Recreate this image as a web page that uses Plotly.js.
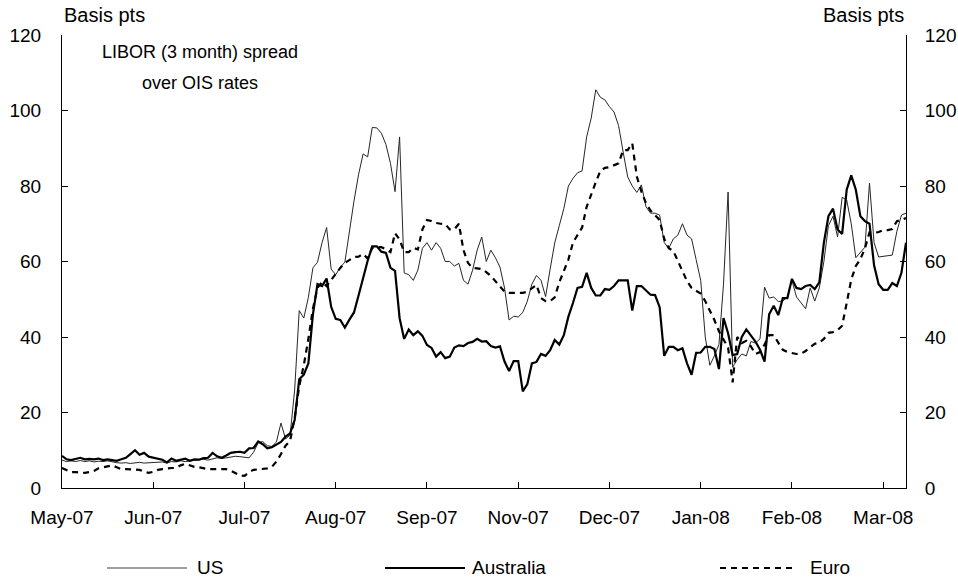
<!DOCTYPE html>
<html>
<head>
<meta charset="utf-8">
<script src="https://cdn.plot.ly/plotly-3.0.1.min.js"></script>
<style>html,body{margin:0;padding:0;background:#fff;}#chart{width:958px;height:577px;}</style>
</head>
<body>
<div id="chart"></div>
<script>
// Tick labels (one every 20 observations)
const tickLabels = ['May-07','Jun-07','Jul-07','Aug-07','Sep-07','Nov-07','Dec-07','Jan-08','Feb-08','Mar-08'];
const tickStep = 20;

// LIBOR (3 month) spread over OIS, basis points
const usSpread = [
 7.4,7.0,7.2,7.0,7.3,7.0,7.2,6.9,7.1,7.0,
 7.2,6.9,6.7,6.6,6.7,6.5,6.6,6.8,6.6,6.7,
 6.8,6.8,6.9,6.6,7.0,6.9,7.2,7.0,7.1,7.4,
 7.3,7.6,7.4,7.7,8.0,7.8,8.0,8.2,8.4,8.3,
 8.2,8.0,9.5,12.0,12.3,11.2,11.0,12.2,17.2,13.0,
 14.0,26,47,45,50.5,58.3,59.8,65,69,58,
 56.5,58.5,59.8,68,76,83,88.5,87.7,95.5,95.4,
 94,91,86,78.5,93,57,56.5,55,57.7,63.5,
 65,63,65,63.5,60,60,58.8,59.5,55,54,
 57.7,63,66.5,60,63,61,58.5,53,44.5,45.5,
 45.3,46.5,49.5,54,56.3,55,50.7,58,64.9,69.5,
 74,80,82,83.5,84,93,98,105.5,103.5,102.8,
 101,99.6,96,89,82.4,80,78.3,80.3,74.5,72.8,
 72.8,72.3,65,63.5,66,67,70,67,66,60.5,
 55,40,32.5,35,38,54,78.4,32,34,35.5,
 35,38.8,38.4,39.5,53.2,50.3,50.6,49.4,49.5,50.6,
 55,50.6,49.2,47.5,53,49.5,53,60,69.5,72,
 66.5,77,76.3,70,61,62.5,63.8,80.8,65,61.2,
 61.4,61.5,61.7,68,72.3,72.8
];
const ausSpread = [
 8.5,7.6,7.4,7.8,8.0,7.6,7.7,7.6,7.8,7.4,
 7.6,7.4,7.2,7.6,8.0,9.0,10.0,8.8,9.3,8.3,
 8.0,7.9,7.5,6.8,7.8,7.2,7.6,7.8,7.2,7.6,
 7.5,7.9,8.0,9.3,8.4,8.0,8.6,9.3,9.5,9.6,
 9.3,10.5,10.6,12.3,11.6,10.5,10.8,11.4,12.2,13.6,
 14.5,18,28.8,30,33,46,54,53.5,55.5,48,
 44.8,44.5,42.5,44.6,46.5,51,56,60.2,64,64,
 62.6,62.3,58.3,57.5,45,39.5,42,40.5,41.5,40.3,
 37.9,37.1,34.8,36,34.4,34.8,37.2,37.8,37.6,38.4,
 38.7,39.5,38.8,38.9,37.6,37.2,37.5,33.5,31,33.6,
 33.6,25.6,27.5,33,33.4,35.5,35,36.5,39.2,38,
 40.5,45.4,49,53,53.3,57,53,51,51,52.7,
 52.5,53.5,55,55,55,47,53.5,53.5,52.3,51.2,
 51.1,47.9,35,37.4,37.4,36.5,37,33,30,35.8,
 35.9,37.4,37.4,36.8,31.5,45,41,35.2,35.5,40,
 42,40.4,38.8,36.6,33.5,46,48.3,45.8,50.3,50.3,
 55.4,53,52.7,53.5,53.8,52.7,54.5,65,72,74,
 68.5,67.3,79,82.8,79,72,70.7,70,59,54,
 52.5,52.5,54.3,53.5,57,65
];
const euroSpread = [
 5.3,4.8,4.2,4.2,4.1,4.0,4.2,4.5,5.2,5.5,
 5.8,6.0,5.5,5.0,5.0,5.0,5.0,4.8,4.3,4.0,
 4.3,4.8,5.0,5.2,5.3,5.3,6.0,6.4,6.0,5.6,
 5.5,5.2,5.0,5.0,5.0,5.0,5.0,4.6,4.0,3.3,
 3.2,4.2,4.8,5.0,5.0,5.2,5.6,7.0,9.0,11.2,
 12.5,18.5,27,32.5,39.5,47.5,53,54.6,53.5,55.2,
 56.8,58.3,59.6,60.3,61.2,61.3,62,60.8,63.6,63.8,
 63.8,63.2,62.5,67.5,65.8,62.5,62.5,63.6,63.2,68.5,
 71,70.7,70.2,70,69.9,68.5,68.5,70,63,59.6,
 58.3,58.2,58,57.2,56.2,54.8,53.4,52,51.7,51.7,
 51.7,51.7,52,53,53.8,50.3,49.5,49.5,50.5,54.5,
 57.7,60.5,65,67,69,74.5,78,81,84,84.8,
 85,85.5,86,89.5,89.5,91.3,82.5,78.5,75.5,73.5,
 72.3,71,66,63.5,62.8,60,57.2,54.8,53,52.3,
 51.5,49.5,47,44.5,41.5,39.3,37.2,28,40,38.4,
 39,37.5,35.5,36,38,40.5,40.5,38.5,36.6,36,
 35.7,35.5,35.6,36.3,37.3,38.2,38.5,39.5,41.1,41.3,
 41.8,43,49,55.2,58.8,60.6,63.5,67.7,67.6,67.8,
 68.3,68.3,68.6,70.7,71,71.5
];
const seriesNames = ['US','Australia','Euro'];

const FONT = 'Arial, "Liberation Sans", sans-serif';
const tickVals = tickLabels.map((_, k) => k * tickStep);

const traces = [
  {y: usSpread, name: seriesNames[0], type: 'scatter', mode: 'lines',
   line: {color: '#262626', width: 1}, showlegend: false, hoverinfo: 'skip'},
  {y: ausSpread, name: seriesNames[1], type: 'scatter', mode: 'lines',
   line: {color: '#000000', width: 2.2}, showlegend: false, hoverinfo: 'skip'},
  {y: euroSpread, name: seriesNames[2], type: 'scatter', mode: 'lines',
   line: {color: '#000000', width: 2.2, dash: '6px,5px'}, showlegend: false, hoverinfo: 'skip'},
  {x: [], y: [], yaxis: 'y2', type: 'scatter', mode: 'lines', showlegend: false, hoverinfo: 'skip'}
];

const axisFont = {family: FONT, size: 19, color: '#000'};
const legY = -0.1766;
const layout = {
  width: 958, height: 577,
  margin: {l: 62, r: 52, t: 35, b: 89, pad: 0},
  paper_bgcolor: '#fff', plot_bgcolor: '#fff',
  showlegend: false,
  font: {family: FONT, size: 19, color: '#000'},
  xaxis: {
    range: [0, 185], tickmode: 'array', tickvals: tickVals, ticktext: tickLabels,
    ticks: 'inside', ticklen: 6, tickcolor: '#000', tickwidth: 1,
    showline: true, linecolor: '#000', linewidth: 1, showgrid: false, zeroline: false,
    tickfont: axisFont, ticklabelstandoff: 12
  },
  yaxis: {
    range: [0, 120], dtick: 20, tick0: 0,
    ticks: 'inside', ticklen: 6, tickcolor: '#000', tickwidth: 1,
    showline: true, linecolor: '#000', linewidth: 1, showgrid: false, zeroline: false,
    tickfont: axisFont, ticklabelstandoff: 16
  },
  yaxis2: {
    overlaying: 'y', side: 'right', anchor: 'x',
    range: [0, 120], dtick: 20, tick0: 0,
    ticks: 'inside', ticklen: 6, tickcolor: '#000', tickwidth: 1,
    showline: true, linecolor: '#000', linewidth: 1, showgrid: false, zeroline: false,
    tickfont: axisFont, ticklabelstandoff: 14
  },
  annotations: [
    {text: 'Basis pts', xref: 'paper', yref: 'paper', x: 0, y: 1.044, xanchor: 'left', yanchor: 'middle', showarrow: false, font: {family: FONT, size: 20}},
    {text: 'Basis pts', xref: 'paper', yref: 'paper', x: 1, y: 1.044, xanchor: 'right', yanchor: 'middle', showarrow: false, font: {family: FONT, size: 20}},
    {text: 'LIBOR (3 month) spread', xref: 'paper', yref: 'paper', x: 0.163, y: 0.963, xanchor: 'center', yanchor: 'middle', showarrow: false, font: {family: FONT, size: 18}},
    {text: 'over OIS rates', xref: 'paper', yref: 'paper', x: 0.163, y: 0.893, xanchor: 'center', yanchor: 'middle', showarrow: false, font: {family: FONT, size: 18}},
    {text: seriesNames[0], xref: 'paper', yref: 'paper', x: 0.1576, y: legY, xanchor: 'left', yanchor: 'middle', showarrow: false, font: {family: FONT, size: 19}},
    {text: seriesNames[1], xref: 'paper', yref: 'paper', x: 0.4834, y: legY, xanchor: 'left', yanchor: 'middle', showarrow: false, font: {family: FONT, size: 19}},
    {text: seriesNames[2], xref: 'paper', yref: 'paper', x: 0.8839, y: legY, xanchor: 'left', yanchor: 'middle', showarrow: false, font: {family: FONT, size: 19}}
  ],
  shapes: [
    {type: 'line', xref: 'paper', yref: 'paper', x0: 0.0533, x1: 0.1481, y0: legY, y1: legY, line: {color: '#808080', width: 1.5}},
    {type: 'line', xref: 'paper', yref: 'paper', x0: 0.3827, x1: 0.4775, y0: legY, y1: legY, line: {color: '#000', width: 2.2}},
    {type: 'line', xref: 'paper', yref: 'paper', x0: 0.7796, x1: 0.8697, y0: legY, y1: legY, line: {color: '#000', width: 2, dash: '6px,5px'}}
  ]
};

Plotly.newPlot('chart', traces, layout, {staticPlot: true, displayModeBar: false});
</script>
</body>
</html>
